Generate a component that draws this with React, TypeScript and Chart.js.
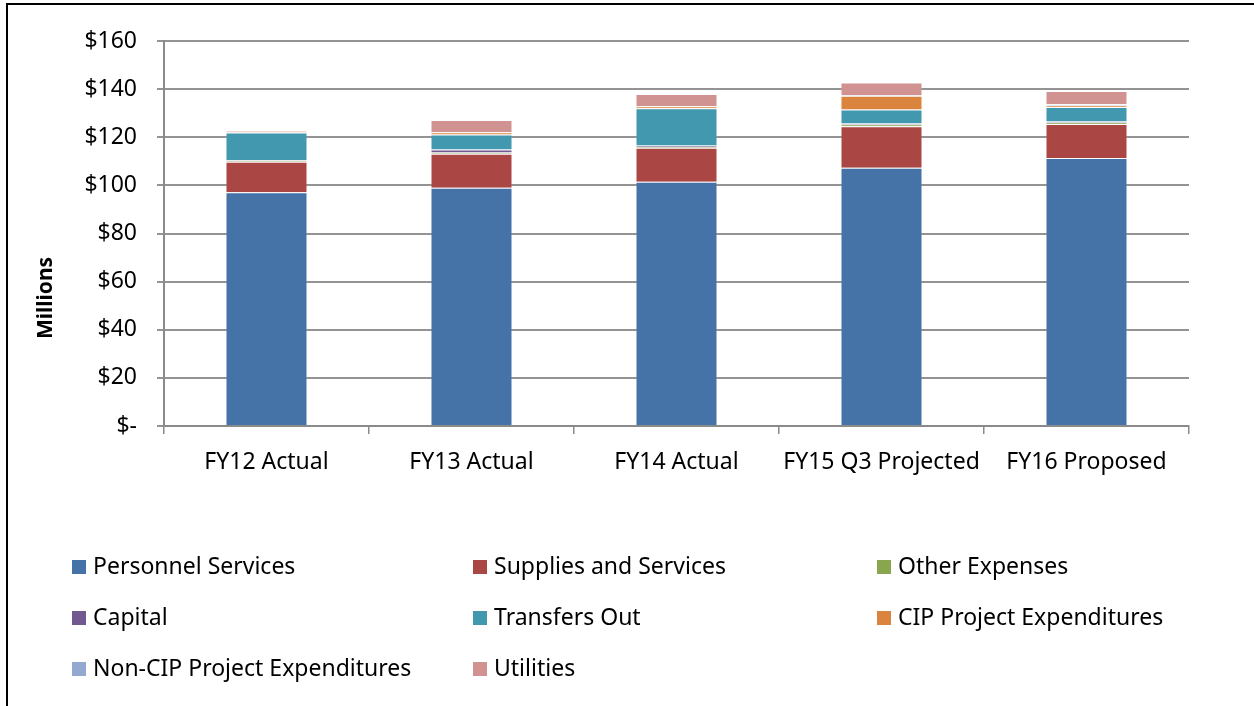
import { useEffect, useRef } from 'react';
import { Chart, registerables } from 'chart.js';

Chart.register(...registerables);

const FONT = '"Noto Sans", "DejaVu Sans", sans-serif';

const categories = ['FY12 Actual', 'FY13 Actual', 'FY14 Actual', 'FY15 Q3 Projected', 'FY16 Proposed'];

const personnel = [97.1, 99.0, 101.5, 107.3, 111.4];
const supplies = [12.7, 14.1, 14.1, 17.3, 14.1];
const otherExpenses = [0.5, 0.6, 0.5, 0.7, 0.6];
const capital = [0.2, 1.2, 0.5, 0.4, 0.4];
const transfersOut = [11.5, 6.2, 15.5, 5.8, 6.1];
const cipProject = [0.2, 1.0, 0.8, 5.7, 0.6];
const nonCipProject = [0, 0, 0, 0.3, 0.5];
const utilities = [0.3, 5.1, 5.1, 5.3, 5.5];

const seriesNames = [
  'Personnel Services',
  'Supplies and Services',
  'Other Expenses',
  'Capital',
  'Transfers Out',
  'CIP Project Expenditures',
  'Non-CIP Project Expenditures',
  'Utilities',
];
const seriesValues = [personnel, supplies, otherExpenses, capital, transfersOut, cipProject, nonCipProject, utilities];
const seriesColors = ['#4572A7', '#AA4643', '#89A54E', '#71588F', '#4198AF', '#DB843D', '#93A9CF', '#D19392'];

const yTickValues = [0, 20, 40, 60, 80, 100, 120, 140, 160];

const legendCols = [72, 473, 877];
const legendRows = [567, 618, 669];

const decorPlugin = {
  id: 'decor',
  beforeDraw(chart: any) {
    const ctx = chart.ctx;
    ctx.save();
    ctx.fillStyle = '#ffffff';
    ctx.fillRect(0, 0, chart.width, chart.height);
    ctx.restore();
  },
  afterDraw(chart: any) {
    const ctx = chart.ctx;
    ctx.save();
    // frame
    ctx.strokeStyle = '#000';
    ctx.lineWidth = 2;
    ctx.beginPath();
    ctx.moveTo(6, 4);
    ctx.lineTo(chart.width, 4);
    ctx.moveTo(7, 3);
    ctx.lineTo(7, chart.height);
    ctx.stroke();
    // axis title
    ctx.fillStyle = '#000';
    ctx.font = `bold 21px ${FONT}`;
    ctx.textAlign = 'center';
    ctx.textBaseline = 'middle';
    ctx.translate(46, 298);
    ctx.rotate(-Math.PI / 2);
    ctx.fillText('Millions', 0, 0);
    ctx.restore();
    // legend
    ctx.save();
    ctx.font = `23px ${FONT}`;
    ctx.textAlign = 'left';
    ctx.textBaseline = 'middle';
    chart.data.datasets.forEach((ds: any, i: number) => {
      const x = legendCols[i % 3];
      const y = legendRows[Math.floor(i / 3)];
      ctx.fillStyle = ds.backgroundColor;
      ctx.fillRect(x, y - 7, 14, 14);
      ctx.fillStyle = '#000';
      ctx.fillText(ds.label, x + 21, y);
    });
    ctx.restore();
  },
};

export default function App() {
  const ref = useRef<HTMLCanvasElement>(null);
  useEffect(() => {
    const chart = new Chart(ref.current as HTMLCanvasElement, {
      type: 'bar',
      data: {
        labels: categories,
        datasets: seriesNames.map((name, i) => ({
          label: name,
          data: seriesValues[i],
          backgroundColor: seriesColors[i],
          borderColor: 'rgba(255,255,255,0.15)',
          borderWidth: 1,
          barPercentage: 0.4,
          categoryPercentage: 1,
        })),
      },
      options: {
        responsive: false,
        animation: false,
        layout: { padding: { left: 0, right: 65, top: 41, bottom: 220 } },
        plugins: { legend: { display: false }, tooltip: { enabled: false }, title: { display: false } },
        scales: {
          x: {
            stacked: true,
            grid: {
              display: true,
              drawOnChartArea: false,
              drawTicks: true,
              tickLength: 8,
              color: '#8a8a8a',
              lineWidth: 1.5,
              offset: true,
            },
            border: { color: '#8a8a8a', width: 2 },
            ticks: { font: { family: FONT, size: 23 }, color: '#000', padding: 15, maxRotation: 0 },
            afterFit: (s: any) => {
              s.height = 60;
            },
          },
          y: {
            stacked: true,
            min: 0,
            max: 160,
            afterBuildTicks: (s: any) => {
              s.ticks = yTickValues.map((v) => ({ value: v }));
            },
            ticks: {
              font: { family: FONT, size: 23 },
              color: '#000',
              padding: 20,
              callback: (v: any) => (Number(v) === 0 ? '$-' : '$' + v),
            },
            grid: { color: '#939393', lineWidth: 2, tickLength: 7 },
            border: { color: '#8a8a8a', width: 2 },
            afterFit: (s: any) => {
              s.width = 164;
            },
          },
        },
      },
      plugins: [decorPlugin],
    });
    return () => chart.destroy();
  }, []);
  return (
    <div style={{ position: 'absolute', left: 0, top: 0, width: 1254, height: 706, background: '#fff' }}>
      <canvas ref={ref} width={1254} height={706} style={{ display: 'block' }} />
    </div>
  );
}
